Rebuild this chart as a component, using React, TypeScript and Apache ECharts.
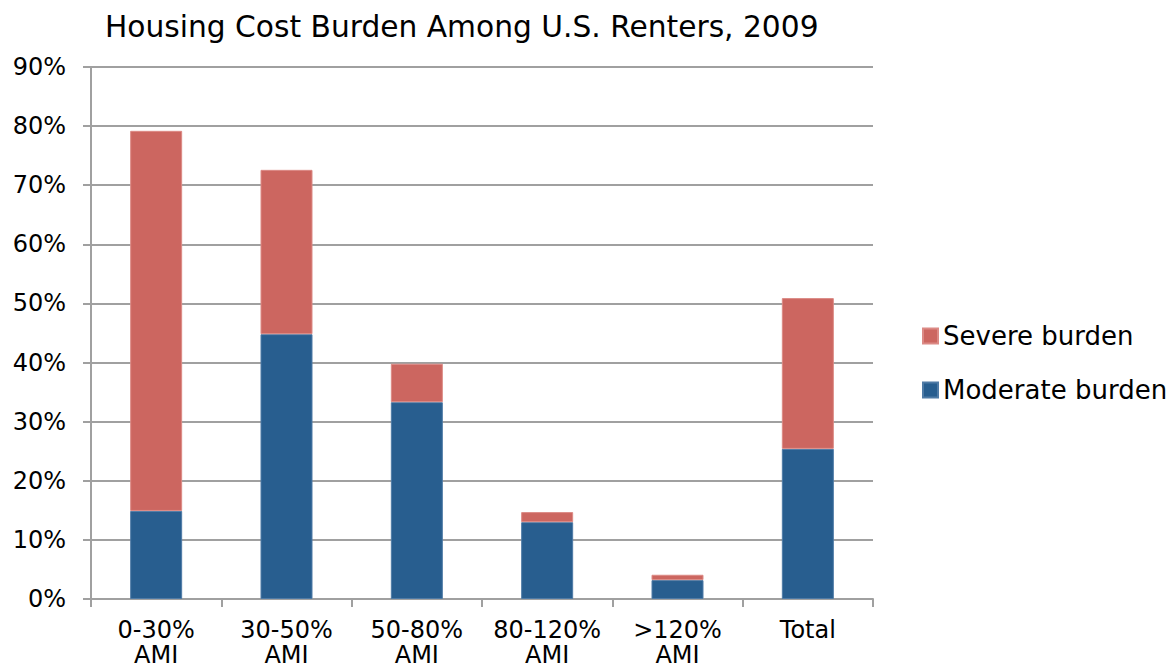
import React, { useEffect, useRef } from "react";
import * as echarts from "echarts";

const categories = ["0-30%\nAMI", "30-50%\nAMI", "50-80%\nAMI", "80-120%\nAMI", ">120%\nAMI", "Total"];
const moderate = [14.9, 44.8, 33.3, 13.0, 3.2, 25.4];
const severe = [64.3, 27.8, 6.5, 1.7, 0.9, 25.5];
const yTicks = [0, 10, 20, 30, 40, 50, 60, 70, 80, 90];

export default function App() {
  const ref = useRef<HTMLDivElement>(null);
  useEffect(() => {
    if (!ref.current) return;
    const chart = echarts.init(ref.current, null, { renderer: "svg" });
    const font = "DejaVu Sans";
    chart.setOption({
      animation: false,
      backgroundColor: "#ffffff",
      title: {
        text: "Housing Cost Burden Among U.S. Renters, 2009",
        left: 100,
        top: 6,
        textStyle: { fontFamily: font, fontWeight: "normal", fontSize: 29.7, color: "#000" },
      },
      legend: {
        orient: "vertical",
        left: 917,
        top: 318,
        itemWidth: 15,
        itemHeight: 15,
        itemGap: 28,
        icon: "rect",
        data: ["Severe burden", "Moderate burden"],
        textStyle: { fontFamily: font, fontSize: 26, color: "#000" },
      },
      grid: { left: 91, right: 299, top: 67, bottom: 69, containLabel: false, outerBoundsMode: "none" },
      xAxis: {
        type: "category",
        data: categories,
        axisLine: { lineStyle: { color: "#a0a0a0", width: 2 } },
        axisTick: { show: true, interval: 0, length: 8, lineStyle: { color: "#a0a0a0", width: 2 } },
        axisLabel: { interval: 0, fontFamily: font, fontSize: 24, color: "#000", margin: 18, lineHeight: 25 },
      },
      yAxis: {
        type: "value",
        min: 0,
        max: 90,
        interval: 10,
        axisLine: { show: true, lineStyle: { color: "#a0a0a0", width: 2 } },
        axisTick: { show: true, length: 8, inside: false, lineStyle: { color: "#a0a0a0", width: 2 } },
        splitLine: { lineStyle: { color: "#a0a0a0", width: 2 } },
        axisLabel: {
          fontFamily: font,
          fontSize: 24,
          color: "#000",
          margin: 25,
          formatter: (v: number) => (yTicks.includes(v) ? v + "%" : ""),
        },
      },
      series: [
        {
          name: "Moderate burden",
          type: "bar",
          stack: "a",
          data: moderate,
          barWidth: 52,
          itemStyle: { color: "#285e8f", borderColor: "#4f7ba6", borderWidth: 1 },
        },
        {
          name: "Severe burden",
          type: "bar",
          stack: "a",
          data: severe,
          barWidth: 52,
          itemStyle: { color: "#cc6660", borderColor: "#dc8a85", borderWidth: 1 },
        },
      ],
    });
    return () => chart.dispose();
  }, []);
  return <div ref={ref} style={{ width: 1172, height: 668, position: "absolute", left: 0, top: 0 }} />;
}
